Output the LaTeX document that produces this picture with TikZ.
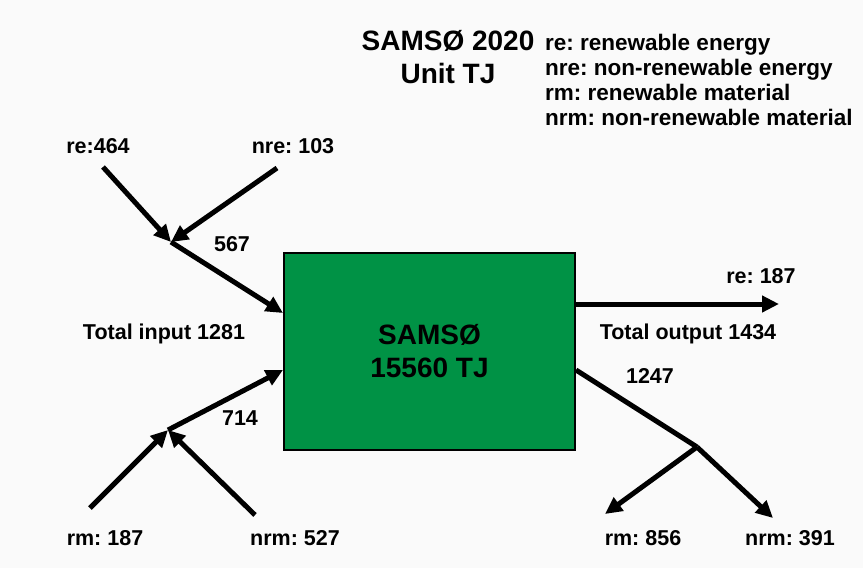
\documentclass[tikz,border=0pt]{standalone}
\usepackage{fontspec}
\setmainfont{Liberation Sans}
\usetikzlibrary{arrows.meta}
\definecolor{samsogreen}{RGB}{0,146,69}
\frenchspacing

\begin{document}
\begin{tikzpicture}[x=1pt,y=-1pt,
  flow/.style={line width=5pt,-{Triangle[length=17pt,width=16pt]}},
  flowline/.style={line width=5pt},
  lbl/.style={font=\fontsize{21.5}{25}\selectfont\bfseries,inner sep=0pt},
  big/.style={font=\fontsize{28}{33}\selectfont\bfseries,inner sep=0pt,align=center}]
  \fill[gray!4] (0,0) rectangle (863,568);
  \useasboundingbox (0,0) rectangle (863,568);
  % the island as one box, inputs left, outputs right
  \node[big,draw=black,line width=2pt,fill=samsogreen,minimum width=291pt,minimum height=197pt]
    (island) at (429.5,351.5) {SAMSØ\\15560 TJ};
  \node[big] (title) at (448,57) {SAMSØ 2020\\Unit TJ};
  \node[lbl,anchor=west,align=left,font=\fontsize{22.5}{25.3}\selectfont\bfseries]
    (legend) at (545,80) {re: renewable energy\\nre: non-renewable energy\\rm: renewable material\\nrm: non-renewable material};

  \node[lbl] (re) at (98,146) {re:464};
  \node[lbl] (nre) at (293,146) {nre: 103};
  \node[lbl] (e567) at (232,244) {567};
  \node[lbl] (totin) at (164,334) {Total input 1281};
  \node[lbl] (m714) at (240,418) {714};
  \node[lbl] (rmin) at (105,538) {rm: 187};
  \node[lbl] (nrmin) at (295,538) {nrm: 527};

  \node[lbl] (reout) at (761,276) {re: 187};
  \node[lbl] (totout) at (688,334) {Total output 1434};
  \node[lbl] (m1247) at (650,376) {1247};
  \node[lbl] (rmout) at (643,538) {rm: 856};
  \node[lbl] (nrmout) at (790,538) {nrm: 391};

  \coordinate (reA) at (103,167);
  \coordinate (nreA) at (277,168);
  \coordinate (ejoin) at (171,242);
  \coordinate (rmA) at (90,508);
  \coordinate (nrmA) at (255,515);
  \coordinate (mjoin) at (168,430);
  \coordinate (outjoin) at (697,447);
  \coordinate (reEnd) at (779,304);
  \coordinate (rmEnd) at (605,514);
  \coordinate (nrmEnd) at (773,518);

  \draw[flow] (reA) -- (ejoin);
  \draw[flow] (nreA) -- (ejoin);
  \draw[flow] (ejoin) -- (island.west |- 0,313);
  \draw[flow] (rmA) -- (mjoin);
  \draw[flow] (nrmA) -- (mjoin);
  \draw[flow] (mjoin) -- (island.west |- 0,370);
  \draw[flow] (island.east |- 0,304) -- (reEnd);
  \draw[flowline] (island.east |- 0,370) -- (outjoin);
  \draw[flow] (outjoin) -- (rmEnd);
  \draw[flow] (outjoin) -- (nrmEnd);
\end{tikzpicture}
\end{document}
